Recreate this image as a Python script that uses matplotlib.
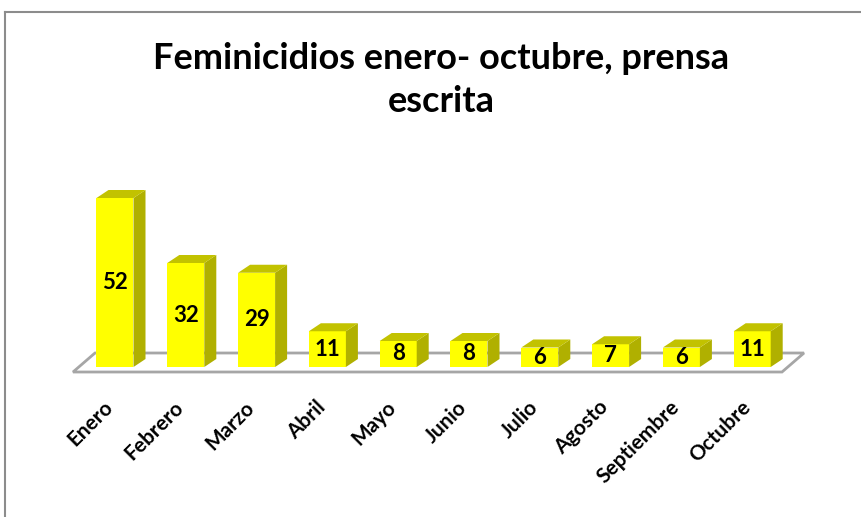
import numpy as np
import matplotlib.pyplot as plt
from matplotlib.patches import Polygon

meses = ['Enero', 'Febrero', 'Marzo', 'Abril', 'Mayo', 'Junio', 'Julio',
         'Agosto', 'Septiembre', 'Octubre']
casos = [52, 32, 29, 11, 8, 8, 6, 7, 6, 11]

titulo = 'Feminicidios enero- octubre, prensa\nescrita'

W, H = 861, 517
fig = plt.figure(figsize=(W / 100, H / 100), dpi=100)
ax = fig.add_axes([0, 0, 1, 1])
ax.axis('off')

# pixel mapping: index 0 -> x=115, step 70.8 ; value 0 -> y=367, 3.25 px/unit
x0, step = 115, 70.8
y0, k = 367, 3.25
ax.set_xlim((0 - x0) / step, (W - x0) / step)
ax.set_ylim((y0 - H) / k, y0 / k)

fuente = 'Lato'
ancho = 37 / step
dx, dy = 12 / step, 8 / k

# floor
fx0, fx1 = (73 - x0) / step, (782 - x0) / step
fy = (y0 - 372) / k
bx, by = 22 / step, 19 / k
suelo = Polygon([(fx0, fy), (fx1, fy), (fx1 + bx, fy + by), (fx0 + bx, fy + by)],
                closed=True, facecolor='white', edgecolor='#a6a6a6', lw=2, zorder=1)
ax.add_patch(suelo)

for i, v in enumerate(casos):
    l, r = i - ancho / 2, i + ancho / 2
    ax.bar(i, v, width=ancho, color='#ffff00', edgecolor='none', zorder=3)
    ax.add_patch(Polygon([(r, 0), (r + dx, dy), (r + dx, v + dy), (r, v)],
                         closed=True, facecolor='#b0b000', edgecolor='none', zorder=3))
    ax.add_patch(Polygon([(l, v), (r, v), (r + dx, v + dy), (l + dx, v + dy)],
                         closed=True, facecolor='#c2c200', edgecolor='none', zorder=3))
    ax.text(i, v / 2, str(v), ha='center', va='center', fontsize=16,
            fontweight='bold', family=fuente, zorder=4)
    ax.text(i - 0.17, -9.3, meses[i], rotation=45, rotation_mode='anchor',
            ha='right', va='top', fontsize=15, fontweight='bold', family=fuente)

fig.text(441 / W, 1 - 80 / H, titulo, ha='center', va='center', fontsize=26,
         fontweight='bold', family=fuente, linespacing=1.38)

# outer chart border (only top and left are inside the crop)
fig.add_artist(plt.Line2D([5 / W, 1], [1 - 12 / H, 1 - 12 / H], color='#8c8c8c', lw=1.5))
fig.add_artist(plt.Line2D([5 / W, 5 / W], [0, 1 - 12 / H], color='#8c8c8c', lw=1.5))

fig.savefig('out.png', dpi=100)
